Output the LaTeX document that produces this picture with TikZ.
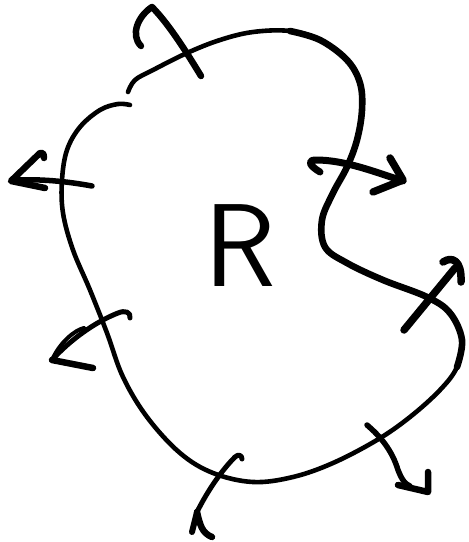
\documentclass[tikz,border=0pt]{standalone}
\begin{document}
\begin{tikzpicture}[x=1pt,y=-1pt,
  ink/.style={line cap=round,line join=round,draw=black},
  label/.style={font=\sffamily\fontsize{118}{118}\selectfont,inner sep=0pt}]
\useasboundingbox (0,0) rectangle (469,542);
% region outline
\draw[ink,line width=4.6] plot[smooth,tension=0.6] coordinates {
 (128,92) (135,80) (153,70) (187,53) (220,40) (253,32) (290,31) (320,40)
 (347,60) (360,83) (362,110) (357,140) (347,167) (333,193) (322,220)
 (325,247) (347,263) (383,280) (427,297) (450,313) (462,340) (457,367)
 (440,390) (410,417) (377,440) (333,463) (293,477) (253,482) (213,473)
 (180,453) (147,417) (123,377) (107,333) (90,290) (73,250) (63,213)
 (62,180) (67,150) (80,127) (100,110) (118,104) (130,105)};
\draw[ink,line width=6.6] plot[smooth,tension=0.6] coordinates {
 (290,31) (320,40) (347,60) (360,83) (362,110) (357,140) (347,167)
 (333,193) (322,220) (325,247) (347,263) (383,280) (427,297) (450,313)
 (462,340) (457,367)};
% label
\node[label] (R) at (240,246) {R};
% top arrow
\draw[ink,line width=6.5] (201,76) .. controls (190,58) and (170,25) .. (152,7)
  .. controls (138,16) and (130,35) .. (141,46);
% left arrow
\draw[ink,line width=5.5] (92,186) .. controls (65,181) and (40,179) .. (15,180);
\draw[ink,line width=6.5] (44,158) .. controls (44,153) and (42,152) .. (40,153)
  -- (11,181) -- (45,188);
% upper right arrow
\draw[ink,line width=7] (320,172) .. controls (310,166) and (306,160) .. (316,160)
  .. controls (345,160) and (375,172) .. (403,181);
\draw[ink,line width=7.5] (390,158) -- (403,180) -- (373,192);
% lower right arrow
\draw[ink,line width=7.5] (404,330) -- (455,268);
\draw[ink,line width=7.5] (443,262) .. controls (452,256) and (462,260) .. (461,282);
% lower left arrow
\draw[ink,line width=5] (130,318) .. controls (131,312) and (125,310) .. (118,313)
  .. controls (95,322) and (70,340) .. (52,360);
\draw[ink,line width=6.5] (52,360) -- (93,368);
\draw[ink,line width=4] (52,360) .. controls (60,342) and (75,330) .. (84,328);
% bottom arrow
\draw[ink,line width=5] (242,459) .. controls (242,455) and (238,454) .. (235,457)
  .. controls (222,470) and (208,490) .. (197,512);
\draw[ink,line width=6] (197,512) -- (192,532);
\draw[ink,line width=6.5] (197,512) .. controls (200,525) and (202,533) .. (212,537);
% bottom right arrow
\draw[ink,line width=5.5] (367,425) .. controls (380,436) and (392,450) .. (398,470)
  .. controls (402,480) and (405,484) .. (410,486);
\draw[ink,line width=6.5] (398,485) -- (428,492) -- (428,472);
\end{tikzpicture}
\end{document}
